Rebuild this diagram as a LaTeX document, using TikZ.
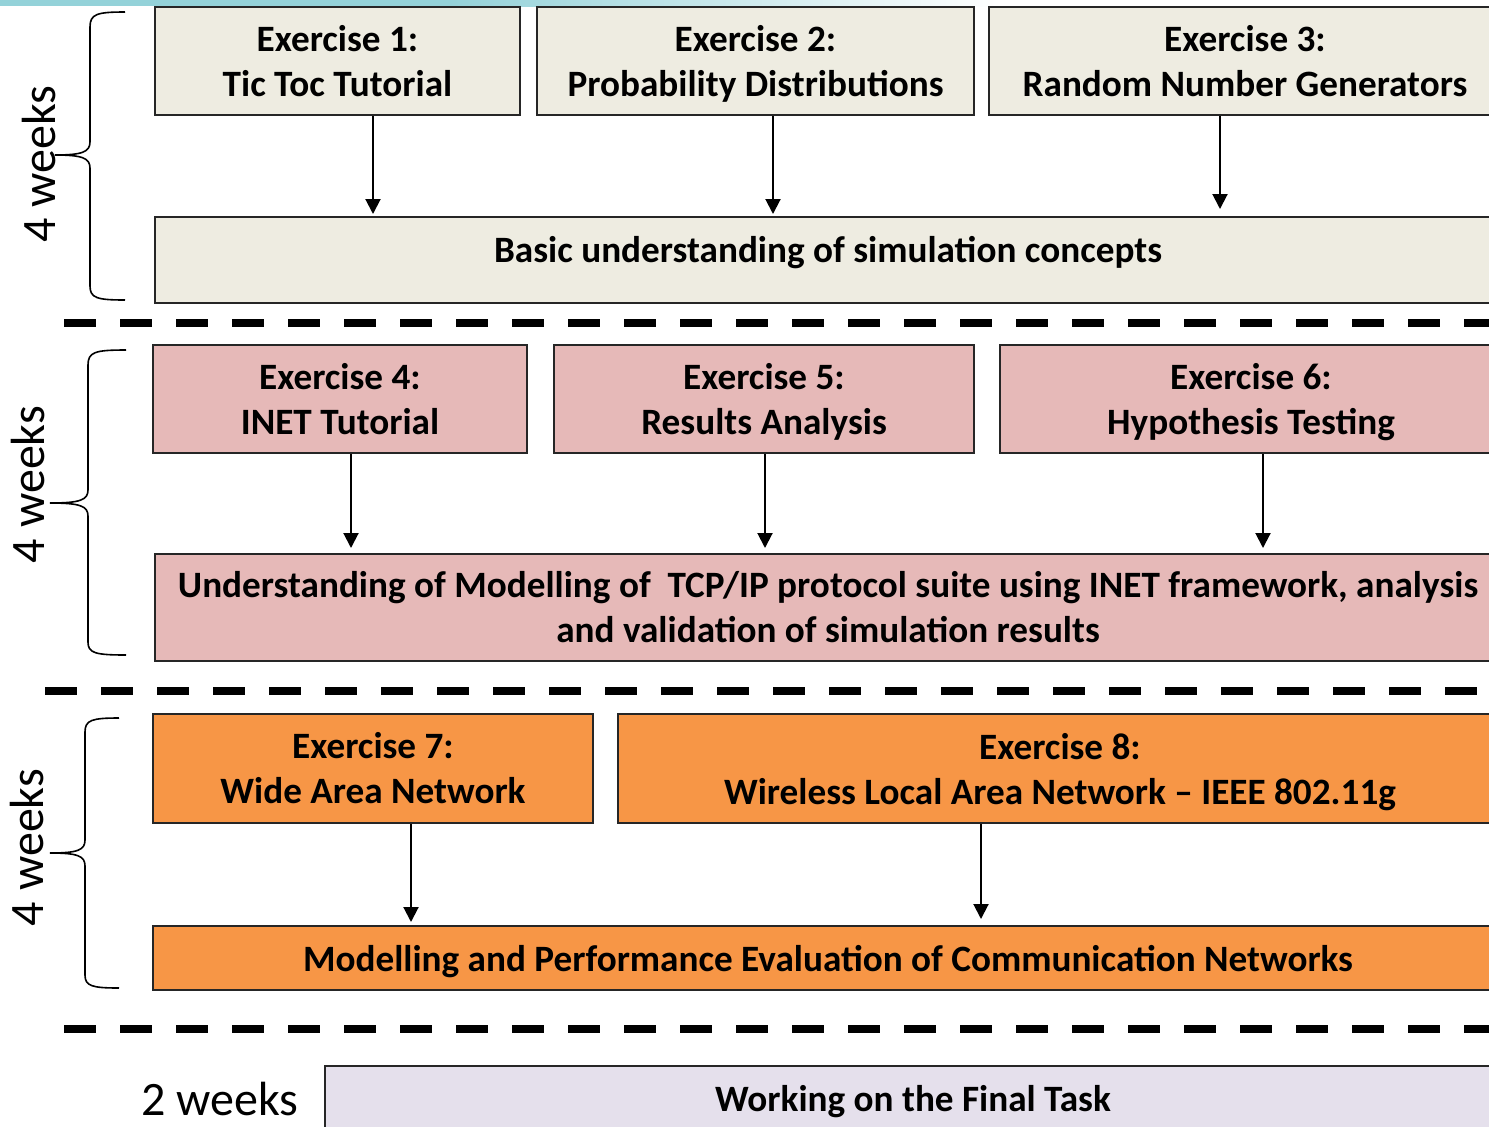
\documentclass[tikz,border=0pt]{standalone}
\usepackage{fontspec}
\setmainfont{Carlito}
\usetikzlibrary{arrows.meta}
\definecolor{beigeF}{HTML}{EEECE1}
\definecolor{pinkF}{HTML}{E6B9B8}
\definecolor{orangeF}{HTML}{F79646}
\definecolor{lavF}{HTML}{E5E0EC}
\definecolor{tealF}{HTML}{94D2D9}
\newcommand\nodsc[1]{\raisebox{0pt}[\height][0pt]{#1}}
\tikzset{
  exbox/.style={draw=black!85, line width=1pt, inner sep=0pt, align=center,
    font=\fontsize{18.6}{22.5}\selectfont\bfseries},
  arr/.style={-{Triangle[width=7.5pt,length=7.5pt]}, line width=1pt, black},
  sep/.style={line width=4pt, dash pattern=on 16pt off 12pt, black},
  brc/.style={line width=0.8pt, black},
  wk/.style={font=\fontsize{24}{28}\selectfont, inner sep=0pt},
}
\begin{document}
\begin{tikzpicture}[x=0.5pt, y=-0.5pt]
\useasboundingbox (0,0) rectangle (1489,1126);
\clip (0,0) rectangle (1489,1126);
% top band
\fill[tealF] (0,0) rectangle (450,6);
\shade[left color=tealF, right color=white] (450,0) rectangle (1000,6);

% ---- block 1
\node[exbox, fill=beigeF, minimum width=182.5pt, minimum height=54pt] (e1) at (337.5,61) {Exercise 1:\\Tic Toc Tutorial};
\node[exbox, fill=beigeF, minimum width=218.5pt, minimum height=54pt] (e2) at (755.5,61) {Exercise 2:\\\nodsc{Probability Distributions}};
\node[exbox, fill=beigeF, minimum width=256pt, minimum height=54pt] (e3) at (1245,61) {Exercise 3:\\Random Number Generators};
\node[exbox, fill=beigeF, minimum width=673pt, minimum height=43pt, text height=13pt, text depth=11pt] (b1) at (828,260) {Basic understanding of simulation concepts};
\coordinate (x1) at (373,0);
\coordinate (x2) at (773,0);
\coordinate (x3) at (1220,0);
\draw[arr, shorten >=1pt] (e1.south -| x1) -- (b1.north -| x1);
\draw[arr, shorten >=1pt] (e2.south -| x2) -- (b1.north -| x2);
\draw[arr, shorten >=3.5pt] (e3.south -| x3) -- (b1.north -| x3);
\draw[brc] (125,12) .. controls (97,12) and (90,14) .. (90,27) -- (90,142) .. controls (90,152) and (82,155) .. (55,155)
  .. controls (82,155) and (90,158) .. (90,168) -- (90,286) .. controls (90,298) and (97,300) .. (125,300);
\node[wk, rotate=90, anchor=base] (w1) at (55,164) {4 weeks};
\draw[sep] (64,323) -- (1489,323);

% ---- block 2
\node[exbox, fill=pinkF, minimum width=187pt, minimum height=54pt] (e4) at (340,399) {Exercise 4:\\INET Tutorial};
\node[exbox, fill=pinkF, minimum width=210pt, minimum height=54pt] (e5) at (764,399) {Exercise 5:\\\nodsc{Results Analysis}};
\node[exbox, fill=pinkF, minimum width=251pt, minimum height=54pt] (e6) at (1251,399) {Exercise 6:\\\nodsc{Hypothesis Testing}};
\node[exbox, fill=pinkF, minimum width=673pt, minimum height=53.5pt] (u1) at (828,607.5) {Understanding of Modelling of\ \ TCP/IP protocol suite using INET framework, analysis\\and validation of simulation results};
\coordinate (x4) at (351,0);
\coordinate (x5) at (765,0);
\coordinate (x6) at (1263,0);
\draw[arr, shorten >=2.5pt] (e4.south -| x4) -- (u1.north -| x4);
\draw[arr, shorten >=2.5pt] (e5.south -| x5) -- (u1.north -| x5);
\draw[arr, shorten >=2.5pt] (e6.south -| x6) -- (u1.north -| x6);
\draw[brc] (126,350) .. controls (95,350) and (88,352) .. (88,365) -- (88,490) .. controls (88,500) and (80,503) .. (50,503)
  .. controls (80,503) and (88,506) .. (88,516) -- (88,642) .. controls (88,653) and (95,655) .. (126,655);
\node[wk, rotate=90, anchor=base] (w2) at (44,484.5) {4 weeks};
\draw[sep] (45,691) -- (1489,691);

% ---- block 3
\node[exbox, fill=orangeF, minimum width=220pt, minimum height=54.5pt] (e7) at (373,768.5) {Exercise 7:\\Wide Area Network};
\node[exbox, fill=orangeF, minimum width=442pt, minimum height=54.5pt] (e8) at (1060,768.5) {Exercise 8:\\\nodsc{Wireless Local Area Network – IEEE 802.11g}};
\node[exbox, fill=orangeF, minimum width=675pt, minimum height=32pt] (m1) at (828,958) {\nodsc{Modelling and Performance Evaluation of Communication Networks}};
\coordinate (x7) at (411,0);
\coordinate (x8) at (981,0);
\draw[arr, shorten >=1.5pt] (e7.south -| x7) -- (m1.north -| x7);
\draw[arr, shorten >=3pt] (e8.south -| x8) -- (m1.north -| x8);
\draw[brc] (119,718) .. controls (92,718) and (85,720) .. (85,732) -- (85,840) .. controls (85,850) and (78,853) .. (50,853)
  .. controls (78,853) and (85,856) .. (85,866) -- (85,975) .. controls (85,986) and (92,988) .. (119,988);
\node[wk, rotate=90, anchor=base] (w3) at (43,847.5) {4 weeks};
\draw[sep] (64,1028.5) -- (1489,1028.5);

% ---- block 4
\node[wk, anchor=base] (w4) at (220,1115) {2 weeks};
\node[exbox, fill=lavF, minimum width=588pt, minimum height=37pt, text height=13pt, text depth=5pt] (ft) at (913,1103) {Working on the Final Task};
\end{tikzpicture}
\end{document}
